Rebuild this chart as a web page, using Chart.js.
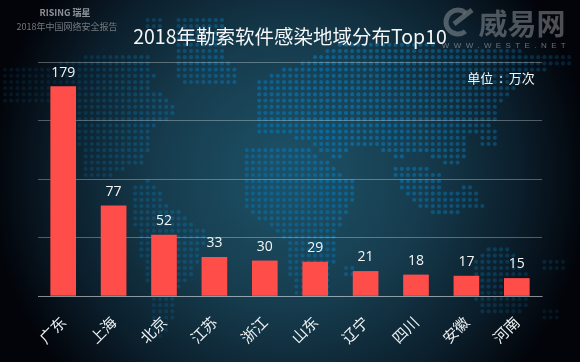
<!DOCTYPE html>
<html>
<head>
<meta charset="utf-8">
<style>
  html, body { margin: 0; padding: 0; background: #000; }
  #wrap { position: relative; width: 580px; height: 362px; overflow: hidden; }
</style>
<script src="https://cdn.jsdelivr.net/npm/chart.js@4"></script>
</head>
<body>
<div id="wrap"><canvas id="bars" width="580" height="362"></canvas></div>
<script>
const categories = ['广东', '上海', '北京', '江苏', '浙江', '山东', '辽宁', '四川', '安徽', '河南'];
const infections = [179, 77, 52, 33, 30, 29, 21, 18, 17, 15];
const yTicks = [0, 50, 100, 150, 200];
const cjk = '"Noto Sans CJK SC", "Noto Sans", sans-serif';

// rough outlines of the backdrop world map, the dot grid is clipped to these
const land = [
  [[5,68],[50,66],[80,58],[120,52],[150,55],[155,75],[150,85],[175,108],[170,118],[155,125],[150,150],[140,165],[125,170],[105,180],[85,175],[80,150],[75,130],[55,105],[5,105]],
  [[175,20],[225,20],[225,60],[240,75],[240,85],[180,85],[175,55]],
  [[145,18],[165,18],[165,27],[145,27]],
  [[135,185],[150,180],[170,205],[206,232],[200,262],[178,292],[177,313],[160,342],[152,335],[150,290],[140,250],[135,225]],
  [[253,83],[300,62],[345,42],[440,45],[540,52],[575,52],[575,66],[530,72],[500,105],[495,125],[470,135],[462,170],[445,165],[420,150],[395,160],[375,145],[350,150],[335,160],[300,138],[253,137]],
  [[242,150],[300,145],[330,162],[358,185],[350,210],[335,240],[332,293],[292,293],[285,240],[242,205]],
  [[340,263],[353,263],[353,280],[340,280]],
  [[390,165],[440,170],[445,190],[475,185],[485,210],[430,215],[400,190]],
  [[480,130],[500,130],[500,150],[480,150]],
  [[478,250],[510,248],[532,280],[525,312],[480,312],[470,285]],
  [[543,258],[563,258],[563,268],[543,268]],
  [[543,306],[557,306],[557,322],[543,322]]
];

function insideLand(x, y) {
  return land.some(poly => {
    let inside = false;
    for (let i = 0, j = poly.length - 1; i < poly.length; j = i++) {
      const [xi, yi] = poly[i], [xj, yj] = poly[j];
      if ((yi > y) !== (yj > y) && x < (xj - xi) * (y - yi) / (yj - yi) + xi) inside = !inside;
    }
    return inside;
  });
}

const backdrop = {
  id: 'backdrop',
  beforeDraw(chart) {
    const c = chart.ctx;
    const w = chart.width, h = chart.height;
    c.save();
    c.fillStyle = '#020409';
    c.fillRect(0, 0, w, h);
    const g = c.createRadialGradient(290, 175, 20, 290, 175, 300);
    g.addColorStop(0, '#1d4f64');
    g.addColorStop(0.4, '#163c4e');
    g.addColorStop(0.75, '#0b1e2b');
    g.addColorStop(1, '#02040a');
    c.fillStyle = g;
    c.fillRect(0, 0, w, h);
    for (let y = 20; y < h; y += 6.2) {
      for (let x = 5; x < w; x += 6.2) {
        if (!insideLand(x, y)) continue;
        const d = Math.hypot(x - 330, y - 130) / 300;
        const a = Math.max(0.16, 1 - d * 0.9);
        c.fillStyle = 'rgba(12, 105, 155, ' + a + ')';
        c.beginPath();
        c.arc(x, y, 2.1, 0, Math.PI * 2);
        c.fill();
      }
    }
    c.restore();
  }
};

const overlayText = {
  id: 'overlayText',
  afterDraw(chart) {
    const c = chart.ctx;
    c.save();
    c.textBaseline = 'middle';
    c.textAlign = 'center';
    c.fillStyle = '#8d9196';
    c.font = 'bold 9px ' + cjk;
    c.fillText('RISING 瑞星', 65, 13);
    c.fillStyle = '#74797e';
    c.font = '9px ' + cjk;
    c.fillText('2018年中国网络安全报告', 67, 27);
    c.fillStyle = '#f4f6f7';
    c.font = '19.5px ' + cjk;
    c.fillText('2018年勒索软件感染地域分布Top10', 290, 37);
    c.font = '13px ' + cjk;
    c.fillText('单位  :  万次', 501, 78);
    // watermark
    c.fillStyle = 'rgba(150, 155, 160, 0.5)';
    c.font = 'bold 29px ' + cjk;
    c.fillText('威易网', 522, 24);
    c.strokeStyle = 'rgba(150, 155, 160, 0.5)';
    c.lineWidth = 5;
    c.beginPath();
    c.arc(458, 22, 12, 0.9, -0.9);
    c.stroke();
    c.beginPath();
    c.moveTo(454, 24);
    c.lineTo(472, 10);
    c.stroke();
    c.font = '8px "Liberation Sans", sans-serif';
    c.fillStyle = 'rgba(170, 175, 180, 0.6)';
    c.letterSpacing = '4.4px';
    c.fillText('WWW.WESTE.NET', 506, 46);
    c.restore();
  }
};

const valueLabels = {
  id: 'valueLabels',
  afterDatasetsDraw(chart) {
    const c = chart.ctx;
    c.save();
    c.fillStyle = '#f4f6f7';
    c.font = '14px "Open Sans", sans-serif';
    c.textAlign = 'center';
    c.textBaseline = 'bottom';
    chart.getDatasetMeta(0).data.forEach((bar, i) => {
      c.fillText(infections[i], bar.x, bar.y - 7);
    });
    c.restore();
  }
};

new Chart(document.getElementById('bars'), {
  type: 'bar',
  data: {
    labels: categories,
    datasets: [{ data: infections, backgroundColor: '#ff4d4a', barThickness: 25 }]
  },
  options: {
    responsive: false,
    animation: false,
    layout: { padding: { left: 38, right: 38, top: 62, bottom: 0 } },
    plugins: { legend: { display: false }, tooltip: { enabled: false } },
    scales: {
      x: {
        afterFit(scale) { scale.height = 66; },
        grid: { display: false },
        border: { color: 'rgba(255,255,255,0.32)' },
        ticks: { color: '#eef1f2', font: { family: cjk, size: 15 }, maxRotation: 45, minRotation: 45, padding: 9 }
      },
      y: {
        display: true,
        min: 0,
        max: 200,
        afterFit(scale) { scale.width = 0; },
        afterBuildTicks(scale) { scale.ticks = yTicks.map(v => ({ value: v })); },
        ticks: { display: false },
        grid: { color: 'rgba(255,255,255,0.3)', drawTicks: false },
        border: { display: false }
      }
    }
  },
  plugins: [backdrop, valueLabels, overlayText]
});
</script>
</body>
</html>
